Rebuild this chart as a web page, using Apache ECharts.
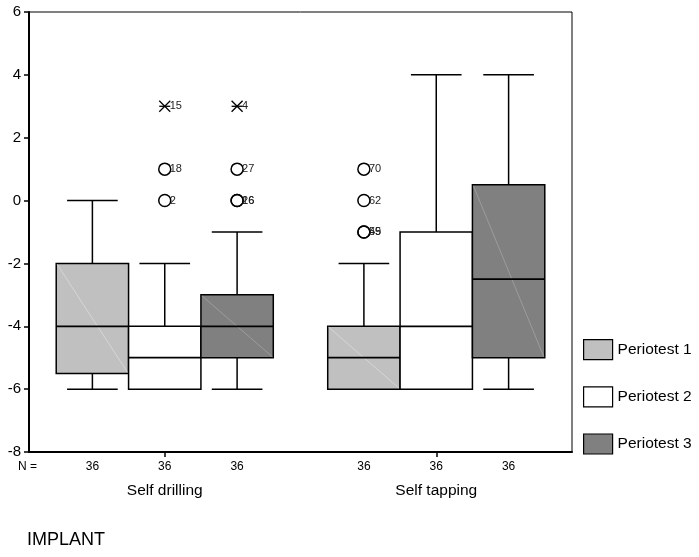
<!DOCTYPE html>
<html>
<head>
<meta charset="utf-8">
<script src="https://cdn.jsdelivr.net/npm/echarts@6/dist/echarts.min.js"></script>
<style>html,body{margin:0;padding:0;background:#fff}#c{width:699px;height:557px}</style>
</head>
<body>
<div id="c"></div>
<script>
// ---- data ----
const categories = ['Self drilling', 'Self tapping'];
const seriesNames = ['Periotest 1', 'Periotest 2', 'Periotest 3'];
// [min, Q1, median, Q3, max] per category
const periotest1Stats = [[-6, -5.5, -4, -2, 0], [-6, -6, -5, -4, -2]];
const periotest2Stats = [[-6, -6, -5, -4, -2], [-6, -6, -4, -1, 4]];
const periotest3Stats = [[-6, -5, -4, -3, -1], [-6, -5, -2.5, 0.5, 4]];
// outliers: [categoryIndex, value, caseLabel, kind]  kind: 'o' outlier, '*' extreme
const periotest1Outliers = [[1, 1, '70', 'o'], [1, 0, '62', 'o'], [1, -1, '45', 'o'], [1, -1, '59', 'o']];
const periotest2Outliers = [[0, 3, '15', '*'], [0, 1, '18', 'o'], [0, 0, '2', 'o']];
const periotest3Outliers = [[0, 3, '4', '*'], [0, 1, '27', 'o'], [0, 0, '16', 'o'], [0, 0, '26', 'o']];
const nCounts = [[36, 36], [36, 36], [36, 36]];
const yTicks = [-8, -6, -4, -2, 0, 2, 4, 6];
const axisTitle = 'IMPLANT';

// ---- styling / layout ----
const colors = ['#c0c0c0', '#ffffff', '#808080'];
const diagColors = ['#d6d6d6', null, '#9c9c9c'];
const BOXW = 0.533;   // box width in x-units
const FONT = '"Liberation Sans", Arial, sans-serif';

const allStats = [periotest1Stats, periotest2Stats, periotest3Stats];
const allOutliers = [periotest1Outliers, periotest2Outliers, periotest3Outliers];

function centerX(ci, si) { return 1 + 2 * ci + (si - 1) * BOXW; }

function boxRender(params, api) {
  const si = params.seriesIndex;
  const ci = api.value(0);
  const xc = centerX(ci, si);
  const vmin = api.value(1), q1 = api.value(2), med = api.value(3), q3 = api.value(4), vmax = api.value(5);
  const xl = api.coord([xc - BOXW / 2, 0])[0];
  const xr = api.coord([xc + BOXW / 2, 0])[0];
  const xm = api.coord([xc, 0])[0];
  const capHalf = (xr - xl) * 0.35;
  const y = v => api.coord([xc, v])[1];
  const ls = { stroke: '#000', lineWidth: 1.5 };
  const children = [
    { type: 'line', shape: { x1: xm, y1: y(vmax), x2: xm, y2: y(q3) }, style: ls },
    { type: 'line', shape: { x1: xm, y1: y(q1), x2: xm, y2: y(vmin) }, style: ls },
    { type: 'line', shape: { x1: xm - capHalf, y1: y(vmax), x2: xm + capHalf, y2: y(vmax) }, style: ls },
    { type: 'line', shape: { x1: xm - capHalf, y1: y(vmin), x2: xm + capHalf, y2: y(vmin) }, style: ls },
    { type: 'rect', shape: { x: xl, y: y(q3), width: xr - xl, height: y(q1) - y(q3) },
      style: { fill: colors[si], stroke: '#000', lineWidth: 1.5 } }
  ];
  if (diagColors[si]) {
    children.push({ type: 'line', shape: { x1: xl + 1, y1: y(q3) + 1, x2: xr - 1, y2: y(q1) - 1 },
      style: { stroke: diagColors[si], lineWidth: 1 } });
  }
  children.push({ type: 'line', shape: { x1: xl, y1: y(med), x2: xr, y2: y(med) }, style: { stroke: '#000', lineWidth: 1.8 } });
  return { type: 'group', children };
}

function outlierRender(params, api) {
  const ci = api.value(0), si = api.value(1), v = api.value(2);
  const d = params.dataIndex;
  const item = outlierFlat[d];
  const p = api.coord([centerX(ci, si), v]);
  const children = [];
  if (item.kind === 'o') {
    children.push({ type: 'circle', shape: { cx: p[0], cy: p[1], r: 6 }, style: { fill: 'rgba(0,0,0,0)', stroke: '#000', lineWidth: 1.5 } });
  } else {
    const s = 5.5;
    const st = { stroke: '#000', lineWidth: 1.3 };
    children.push({ type: 'line', shape: { x1: p[0] - s, y1: p[1] - s, x2: p[0] + s, y2: p[1] + s }, style: st });
    children.push({ type: 'line', shape: { x1: p[0] - s, y1: p[1] + s, x2: p[0] + s, y2: p[1] - s }, style: st });
    children.push({ type: 'line', shape: { x1: p[0] - s, y1: p[1], x2: p[0] + s, y2: p[1] }, style: st });
  }
  children.push({ type: 'text', style: { x: p[0] + 5, y: p[1], text: item.label, fill: '#222',
    font: '11px ' + FONT, textVerticalAlign: 'middle', verticalAlign: 'middle' } });
  return { type: 'group', children };
}

function countRender(params, api) {
  const ci = api.value(0), si = api.value(1);
  const p = api.coord([centerX(ci, si), -8]);
  return { type: 'text', style: { x: p[0], y: p[1] + 15, text: String(api.value(2)), fill: '#000',
    font: '12px ' + FONT, align: 'center', textAlign: 'center', verticalAlign: 'middle', textVerticalAlign: 'middle' } };
}

const outlierFlat = [];
allOutliers.forEach((arr, si) => arr.forEach(o => outlierFlat.push({ ci: o[0], si, v: o[1], label: o[2], kind: o[3] })));
const countData = [];
nCounts.forEach((arr, si) => arr.forEach((n, ci) => countData.push([ci, si, n])));

const series = seriesNames.map((name, si) => ({
  name, type: 'custom', xAxisIndex: 1, yAxisIndex: 0,
  renderItem: boxRender,
  itemStyle: { color: colors[si] },
  encode: { x: 0, y: [1, 2, 3, 4, 5] },
  data: allStats[si].map((s, ci) => [ci].concat(s)),
  z: 2
}));
series.push({
  type: 'custom', xAxisIndex: 1, yAxisIndex: 0, renderItem: outlierRender,
  encode: { x: 0, y: 2 },
  data: outlierFlat.map(o => [o.ci, o.si, o.v]), z: 3
});
series.push({
  type: 'custom', xAxisIndex: 1, yAxisIndex: 0, renderItem: countRender, clip: false,
  encode: { x: 0, y: 1 }, silent: true,
  data: countData, z: 3
});

const chart = echarts.init(document.getElementById('c'), null, { renderer: 'canvas' });
chart.setOption({
  animation: false,
  backgroundColor: '#fff',
  grid: { left: 29, right: 127, top: 12, bottom: 105, show: true, borderColor: '#000', borderWidth: 1 },
  xAxis: [
    { type: 'category', data: categories, position: 'bottom',
      axisLine: { show: true, onZero: false, lineStyle: { color: '#000', width: 2 } },
      axisTick: { show: true, alignWithLabel: true, length: 5, lineStyle: { color: '#000', width: 1.5 } },
      axisLabel: { margin: 31, color: '#000', fontSize: 15.5, fontFamily: FONT },
      splitLine: { show: false } },
    { type: 'value', min: 0, max: 4, position: 'top', show: false }
  ],
  yAxis: {
    type: 'value', min: yTicks[0], max: yTicks[yTicks.length - 1], interval: 2,
    axisLine: { show: true, onZero: false, lineStyle: { color: '#000', width: 2 } },
    axisTick: { show: true, length: 5, lineStyle: { color: '#000', width: 1.5 } },
    axisLabel: { margin: 8, color: '#000', fontSize: 15, fontFamily: FONT },
    splitLine: { show: false }
  },
  legend: {
    orient: 'vertical', left: 583, top: 339, padding: 0,
    itemWidth: 29, itemHeight: 20, itemGap: 26,
    textStyle: { fontSize: 15.5, color: '#000', fontFamily: FONT },
    data: seriesNames.map((n, i) => ({ name: n, icon: 'rect', itemStyle: { color: colors[i], borderColor: '#000', borderWidth: 1.2 } }))
  },
  graphic: [
    { type: 'text', left: 18, top: 461, style: { text: 'N =', font: '12px ' + FONT, fill: '#000' } },
    { type: 'text', left: 27, top: 531, style: { text: axisTitle, font: '18px ' + FONT, fill: '#000' } }
  ],
  series
});
</script>
</body>
</html>
